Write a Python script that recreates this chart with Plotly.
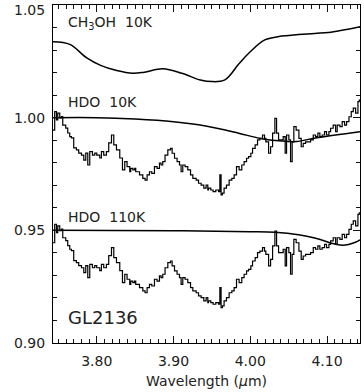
import plotly.graph_objects as go

# Observed GL2136 spectrum (binned, upper copy)
obs_wl = [3.7430, 3.7452, 3.7475, 3.7492, 3.7518, 3.7540, 3.7557, 3.7596, 3.7622, 3.7648,
          3.7670, 3.7700, 3.7735, 3.7765, 3.7801, 3.7831, 3.7857, 3.7883, 3.7909, 3.7944,
          3.7974, 3.8000, 3.8039, 3.8061, 3.8091, 3.8126, 3.8156, 3.8192, 3.8222, 3.8257,
          3.8300, 3.8335, 3.8365, 3.8395, 3.8430, 3.8443, 3.8470, 3.8492, 3.8508, 3.8557,
          3.8600, 3.8630, 3.8656, 3.8687, 3.8717, 3.8752, 3.8786, 3.8817, 3.8838, 3.8860,
          3.8890, 3.8926, 3.8961, 3.8982, 3.9013, 3.9047, 3.9078, 3.9099, 3.9121, 3.9151,
          3.9186, 3.9222, 3.9252, 3.9295, 3.9326, 3.9360, 3.9395, 3.9425, 3.9447, 3.9456,
          3.9486, 3.9516, 3.9551, 3.9587, 3.9604, 3.9620, 3.9638, 3.9659, 3.9690, 3.9725,
          3.9760, 3.9790, 3.9821, 3.9855, 3.9890, 3.9920, 3.9952, 3.9978, 4.0008, 4.0030,
          4.0064, 4.0095, 4.0125, 4.0160, 4.0186, 4.0203, 4.0239, 4.0265, 4.0291, 4.0321,
          4.0343, 4.0369, 4.0399, 4.0429, 4.0455, 4.0473, 4.0503, 4.0525, 4.0546, 4.0568,
          4.0598, 4.0634, 4.0664, 4.0690, 4.0721, 4.0751, 4.0786, 4.0821, 4.0851, 4.0881,
          4.0907, 4.0937, 4.0968, 4.0994, 4.1025, 4.1047, 4.1081, 4.1112, 4.1133, 4.1168,
          4.1198, 4.1229, 4.1255, 4.1286, 4.1316, 4.1342, 4.1373, 4.1403, 4.1420, 4.1430]
obs_flux = [0.9945, 1.0027, 0.9990, 1.0020, 0.9999, 1.0005, 0.9967, 0.9954, 0.9932, 0.9916,
            0.9910, 0.9866, 0.9857, 0.9843, 0.9834, 0.9812, 0.9843, 0.9790, 0.9849, 0.9834,
            0.9843, 0.9834, 0.9821, 0.9849, 0.9834, 0.9849, 0.9888, 0.9923, 0.9879, 0.9857,
            0.9821, 0.9768, 0.9805, 0.9783, 0.9760, 0.9775, 0.9768, 0.9775, 0.9760, 0.9746,
            0.9731, 0.9723, 0.9746, 0.9760, 0.9753, 0.9783, 0.9775, 0.9798, 0.9790, 0.9805,
            0.9834, 0.9857, 0.9864, 0.9842, 0.9820, 0.9805, 0.9790, 0.9760, 0.9790, 0.9783,
            0.9768, 0.9746, 0.9731, 0.9723, 0.9709, 0.9701, 0.9687, 0.9701, 0.9679, 0.9687,
            0.9679, 0.9672, 0.9679, 0.9672, 0.9746, 0.9657, 0.9665, 0.9687, 0.9701, 0.9723,
            0.9731, 0.9746, 0.9783, 0.9768, 0.9790, 0.9805, 0.9820, 0.9827, 0.9842, 0.9864,
            0.9879, 0.9901, 0.9908, 0.9923, 0.9908, 0.9893, 0.9842, 0.9871, 0.9931, 0.9997,
            0.9931, 0.9901, 0.9901, 0.9916, 0.9842, 0.9923, 0.9901, 0.9805, 0.9893, 0.9960,
            0.9945, 0.9908, 0.9871, 0.9886, 0.9893, 0.9893, 0.9901, 0.9923, 0.9916, 0.9931,
            0.9916, 0.9923, 0.9938, 0.9923, 0.9938, 0.9953, 0.9967, 0.9938, 0.9967, 0.9960,
            0.9982, 0.9967, 0.9982, 1.0004, 1.0027, 1.0042, 1.0020, 1.0071, 1.0078, 1.0078]
obs_offset = 0.05  # lower copy shifted down

# Laboratory spectra
ch3oh_wl = [3.743, 3.765, 3.787, 3.805, 3.826, 3.847, 3.862, 3.886, 3.911, 3.935,
            3.950, 3.967, 3.985, 3.998, 4.019, 4.041, 4.084, 4.102, 4.143]
ch3oh_flux = [1.0337, 1.0325, 1.0265, 1.0232, 1.0209, 1.0197, 1.0202, 1.0217, 1.0197, 1.0167,
              1.0160, 1.0168, 1.0238, 1.0286, 1.0345, 1.0362, 1.0374, 1.0378, 1.0404]

hdo10_wl = [3.743, 3.800, 3.850, 3.900, 3.942, 3.985, 4.013, 4.047, 4.060, 4.087, 4.143]
hdo10_flux = [1.0000, 1.0000, 0.9994, 0.9982, 0.9963, 0.9931, 0.9908, 0.9895, 0.9894, 0.9911, 0.9938]

hdo110_wl = [3.743, 3.900, 4.000, 4.032, 4.063, 4.084, 4.095, 4.106, 4.113, 4.120, 4.128, 4.137, 4.143]
hdo110_flux = [0.9500, 0.9498, 0.9494, 0.9491, 0.9480, 0.9466, 0.9455, 0.9443, 0.9437, 0.9434,
               0.9437, 0.9447, 0.9458]

labels = [("CH<sub>3</sub>OH  10K", 3.7605, 1.0420, 14),
          ("HDO  10K", 3.7605, 1.0070, 14),
          ("HDO  110K", 3.7605, 0.9559, 14),
          ("GL2136", 3.7605, 0.9112, 18)]

y_top_label = "1.05"

FONT = "DejaVu Sans"
TXT = "#222"
line_style = dict(color="black", width=1.5)

fig = go.Figure()
fig.add_trace(go.Scatter(x=ch3oh_wl, y=ch3oh_flux, mode="lines", line=dict(shape="spline", **line_style)))
fig.add_trace(go.Scatter(x=hdo10_wl, y=hdo10_flux, mode="lines", line=dict(shape="spline", **line_style)))
fig.add_trace(go.Scatter(x=hdo110_wl, y=hdo110_flux, mode="lines", line=dict(shape="spline", **line_style)))
fig.add_trace(go.Scatter(x=obs_wl, y=obs_flux, mode="lines", line=dict(shape="hv", color="black", width=1.2)))
fig.add_trace(go.Scatter(x=obs_wl, y=[v - obs_offset for v in obs_flux], mode="lines",
                         line=dict(shape="hv", color="black", width=1.2)))

for txt, x, y, sz in labels:
    fig.add_annotation(x=x, y=y, text=txt, showarrow=False, xanchor="left", yanchor="middle",
                       font=dict(size=sz, color=TXT, family=FONT))

# top y tick label, nudged down so it stays inside the figure (as in the reference)
fig.add_annotation(xref="paper", yref="paper", x=-0.02, y=1.0, yshift=-5, text=y_top_label,
                   showarrow=False, xanchor="right", yanchor="middle",
                   font=dict(size=14, color=TXT, family=FONT))

# y-axis title, mostly clipped off the left edge as in the reference
fig.add_annotation(xref="paper", yref="paper", x=-0.158, y=0.62, text="Normalized Flux",
                   textangle=-90, showarrow=False, xanchor="right", yanchor="middle",
                   font=dict(size=14, color="#444", family=FONT))

def axis_common():
    return dict(showline=True, linecolor="black", linewidth=1.3, mirror="allticks",
                ticks="inside", ticklen=7, tickwidth=1.2, tickcolor="#111",
                showgrid=False, zeroline=False, tickmode="linear", tickformat=".2f",
                automargin=False,
                tickfont=dict(size=14, color=TXT, family=FONT),
                minor=dict(ticks="inside", ticklen=4, tickwidth=1.2, tickcolor="#111",
                           showgrid=False, dtick=0.01))

fig.update_xaxes(range=[3.743, 4.143], tick0=3.8, dtick=0.1, ticklabelstandoff=5,
                 title=dict(text="Wavelength (<i>μ</i>m)", standoff=8,
                            font=dict(size=14, color=TXT, family=FONT)),
                 **axis_common())
fig.update_yaxes(range=[0.90, 1.05], tick0=0.9, dtick=0.05, ticklabelstandoff=4,
                 labelalias={y_top_label: " "}, ticklabeloverflow="allow", **axis_common())

fig.update_layout(width=364, height=392, margin=dict(l=53, r=4, t=5, b=49, autoexpand=False),
                  paper_bgcolor="white", plot_bgcolor="white", showlegend=False)

fig.write_html("out.html")
